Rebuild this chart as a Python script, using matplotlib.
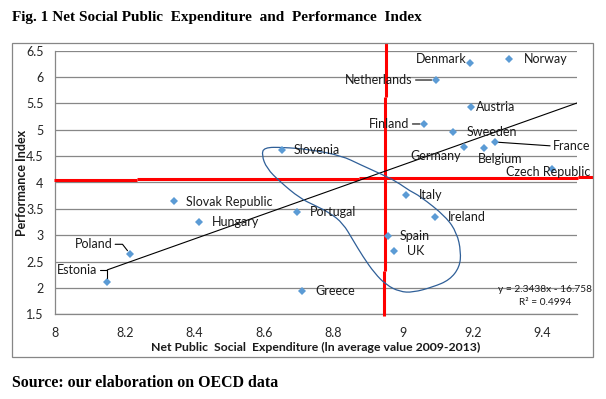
import matplotlib
matplotlib.use("Agg")
from matplotlib import pyplot as plt
from matplotlib.patches import Rectangle, PathPatch
from matplotlib.path import Path

# countries, x = ln net public social expenditure, y = performance index
countries = ["Estonia", "Poland", "Slovak Republic", "Hungary", "Portugal", "Slovenia",
             "Greece", "Italy", "Ireland", "Spain", "UK", "Denmark", "Norway",
             "Netherlands", "Austria", "Finland", "Sweeden", "Germany", "Belgium",
             "France", "Czech Republic"]
spend = [8.150, 8.215, 8.341, 8.413, 8.694, 8.651, 8.708, 9.008, 9.092, 8.957, 8.973,
         9.193, 9.304, 9.094, 9.194, 9.060, 9.143, 9.175, 9.232, 9.263, 9.427]
perf = [2.118, 2.644, 3.655, 3.257, 3.440, 4.616, 1.942, 3.769, 3.351, 2.991, 2.706,
        6.272, 6.342, 5.944, 5.432, 5.110, 4.958, 4.673, 4.662, 4.768, 4.250]

# label offsets from marker, in pixels (dx right, dy up), alignment, leader style
label_pos = {
    "Estonia": (-10.6, 11.7, "right", "angle,angleA=0,angleB=90,rad=0"),
    "Poland": (-17.7, 9.7, "right", "angle,angleA=0,angleB=128,rad=0"),
    "Slovak Republic": (11.7, -1, "left", None),
    "Hungary": (13.3, 0, "left", None),
    "Portugal": (13, 0, "left", None),
    "Slovenia": (11.6, 0, "left", None),
    "Greece": (13.6, 0, "left", None),
    "Italy": (12.7, 0, "left", None),
    "Ireland": (12.3, 0, "left", None),
    "Spain": (11.4, 0, "left", None),
    "UK": (13.6, 0, "left", None),
    "Denmark": (-4, 3.4, "right", None),
    "Norway": (14.7, 0, "left", None),
    "Netherlands": (-23, 0, "right", "arc3"),
    "Austria": (5.6, 0, "left", None),
    "Finland": (-14.3, 0, "right", "arc3"),
    "Sweeden": (14, 0, "left", None),
    "Germany": (-28.5, -9.3, "center", None),
    "Belgium": (16.2, -11.3, "center", None),
    "France": (58.3, -4, "left", "arc3"),
    "Czech Republic": (-3.4, -2.7, "center", None),
}

# linear trend reported on the chart
slope, intercept = 2.3438, -16.758
trend_x = [8.15, 9.5]

# reference lines (hand drawn, slightly wobbly)
vline = [(8.952, 6.65, 5.627), (8.949, 5.627, 2.327), (8.945, 2.327, 1.473)]
hline = [(4.047, 7.997, 8.234), (4.066, 8.234, 8.873), (4.085, 8.873, 9.503), (4.104, 9.503, 9.546)]

# hand drawn lasso around the "mediterranean" group (control points)
loop_x = [8.5934, 8.6000, 8.6546, 8.7322, 8.8233, 8.8760, 8.9429, 8.9815, 9.0197, 9.0484,
          9.1232, 9.1548, 9.1663, 9.1626, 9.1338, 9.0858, 9.0283, 8.9901, 8.9516, 8.9182,
          8.8846, 8.8558, 8.8271, 8.7897, 8.7466, 8.7035, 8.6460, 8.6077]
loop_y = [4.522, 4.665, 4.668, 4.626, 4.508, 4.341, 4.142, 4.015, 3.839, 3.744,
          3.351, 3.042, 2.687, 2.397, 2.151, 2.018, 1.914, 1.929, 2.056, 2.278,
          2.593, 2.909, 3.226, 3.422, 3.564, 3.700, 4.015, 4.269]

xticks = [8, 8.2, 8.4, 8.6, 8.8, 9, 9.2, 9.4]
yticks = [1.5, 2, 2.5, 3, 3.5, 4, 4.5, 5, 5.5, 6, 6.5]

plt.rcParams['font.family'] = ['Lato', 'DejaVu Sans']
PX = 0.72  # points per pixel at dpi 100

fig = plt.figure(figsize=(6.06, 3.99), dpi=100)
ax = fig.add_axes([55.3 / 606, 1 - 314.3 / 399, 521.7 / 606, 263.6 / 399])

# outer chart frame
fig.patches.append(Rectangle((11.5 / 606, 1 - 357 / 399), 581.5 / 606, 314.3 / 399,
                             transform=fig.transFigure, fill=False, ec="#868686", lw=0.9))

ax.set_xlim(8, 9.5)
ax.set_ylim(1.5, 6.5)
ax.set_xticks(xticks)
ax.set_xticklabels(["%g" % t for t in xticks])
ax.set_yticks(yticks)
ax.set_yticklabels(["%g" % t for t in yticks])
ax.tick_params(length=0, labelsize=9, labelcolor="#262626")
ax.tick_params(axis="y", pad=8.5)
ax.tick_params(axis="x", pad=9)
ax.grid(axis="y", color="#878787", lw=0.9)
ax.set_axisbelow(True)
for s in ["top", "right"]:
    ax.spines[s].set_visible(False)
for s in ["left", "bottom"]:
    ax.spines[s].set_color("#878787")
    ax.spines[s].set_linewidth(0.9)

# red reference lines
for x, y0, y1 in vline:
    ax.plot([x, x], [y0, y1], color="#FF0000", lw=2.2, clip_on=False, zorder=3, solid_capstyle="butt")
for y, x0, x1 in hline:
    ax.plot([x0, x1], [y, y], color="#FF0000", lw=2.2, clip_on=False, zorder=3, solid_capstyle="butt")

# trend line
ax.plot(trend_x, [slope * v + intercept for v in trend_x], color="black", lw=0.8, zorder=4)

# lasso drawn as a closed quadratic spline through the control points
pts = list(zip(loop_x, loop_y))
n = len(pts)
mid = lambda a, b: ((a[0] + b[0]) / 2, (a[1] + b[1]) / 2)
verts = [mid(pts[0], pts[1])]
codes = [Path.MOVETO]
for i in range(1, n + 1):
    verts += [pts[i % n], mid(pts[i % n], pts[(i + 1) % n])]
    codes += [Path.CURVE3, Path.CURVE3]
ax.add_patch(PathPatch(Path(verts, codes), fill=False, ec="#2F5F98", lw=0.9, zorder=4))

ax.plot(spend, perf, "D", color="#5B9BD5", ms=4.3, mew=0, zorder=5)

for name, x, y in zip(countries, spend, perf):
    dx, dy, ha, conn = label_pos[name]
    props = None
    if conn is not None:
        relpos = (1, 0.5) if ha == "right" else ((0, 0.5) if ha == "left" else (0.5, 0.5))
        props = dict(arrowstyle="-", color="black", lw=0.8, shrinkA=0, shrinkB=3,
                     connectionstyle=conn, relpos=relpos)
    ax.annotate(name, (x, y), xytext=(dx * PX, dy * PX), textcoords="offset points",
                ha=ha, va="center", fontsize=9, color="#1a1a1a", arrowprops=props, zorder=6)

ax.text(545 / 606, 1 - 289.3 / 399, "y = %.4fx - %.3f" % (slope, -intercept),
        transform=fig.transFigure, ha="center", va="center", fontsize=7.3, color="#1a1a1a")
ax.text(545 / 606, 1 - 302.3 / 399, "R² = 0.4994", transform=fig.transFigure,
        ha="center", va="center", fontsize=7.3, color="#1a1a1a")

fig.text(316 / 606, 1 - 347.7 / 399, "Net Public  Social  Expenditure (ln average value 2009-2013)",
         ha="center", va="center", fontsize=8.8, fontweight="bold", color="#1a1a1a")
fig.text(22 / 606, 1 - 183 / 399, "Performance Index", rotation=90, ha="center", va="center",
         fontsize=9, fontweight="bold", color="#1a1a1a")

fig.text(12 / 606, 1 - 20.7 / 399, "Fig. 1 Net Social Public  Expenditure  and  Performance  Index",
         ha="left", va="baseline", fontsize=11, fontweight="bold", family="Liberation Serif")
fig.text(12 / 606, 1 - 387.3 / 399, "Source: our elaboration on OECD data",
         ha="left", va="baseline", fontsize=11.4, fontweight="bold", family="Liberation Serif")

fig.savefig("out.png", dpi=100)
